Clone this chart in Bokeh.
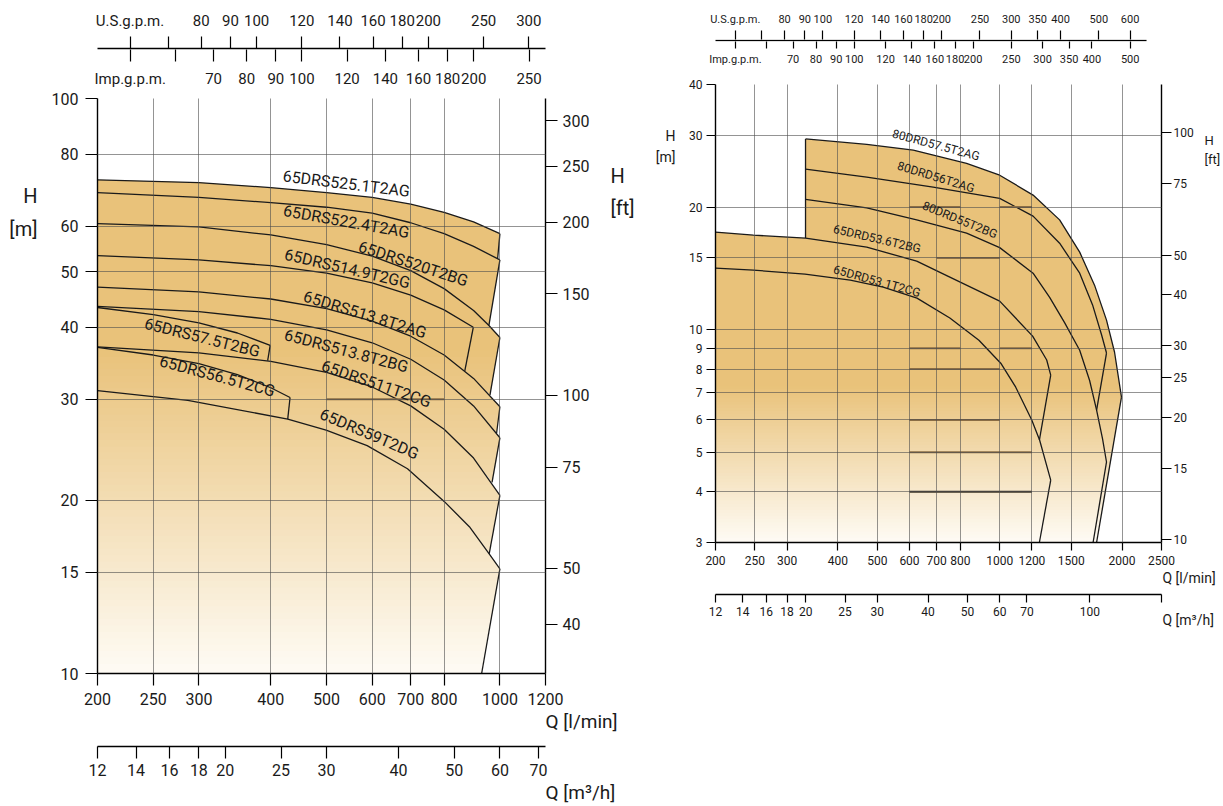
import numpy as np
from bokeh.plotting import figure
from bokeh.models import Range1d, LogScale, LogAxis, FixedTicker, Label, Title
from bokeh.layouts import row, column
from bokeh.embed import file_html
from bokeh.resources import INLINE

FONT = "Roboto"
TAN = (233, 194, 122)
LIGHT = (254, 251, 244)
INK = "#1a1a1a"
US_GAL = 3.78541
IMP_GAL = 4.54609
M_TO_FT = 3.28084
LMIN_TO_M3H = 0.06

# ===================== LEFT CHART (Q l/min, H m) =====================
L_Q_TICKS = [200, 250, 300, 400, 500, 600, 700, 800, 1000, 1200]
L_Q_GRID = [250, 300, 400, 500, 600, 700, 800, 1000]
L_H_TICKS = [10, 15, 20, 30, 40, 50, 60, 80, 100]
L_H_GRID = [15, 20, 30, 40, 50, 60, 80]
L_FT_TICKS = [40, 50, 75, 100, 150, 200, 250, 300]
L_M3H_TICKS = [12, 14, 16, 18, 20, 25, 30, 40, 50, 60, 70]
L_M3H_LABELS = ["12", "14", "16", "18", "20", "25", "30", "40", "50", "60", "70"]
L_US_TICKS = [60, 70, 80, 90, 100, 120, 140, 160, 180, 200, 250, 300]
L_US_LABELS = ["U.S.g.p.m.", "", "80", "90", "100", "120", "140", "160", "180", "200", "250", "300"]
L_IMP_TICKS = [50, 60, 70, 80, 90, 100, 120, 140, 160, 180, 200, 250]
L_IMP_LABELS = ["Imp.g.p.m.", "", "70", "80", "90", "100", "120", "140", "160", "180", "200", "250"]

Q9 = [200, 300, 400, 500, 600, 700, 800, 900, 1000]
H_525_1 = [72.2, 71.4, 70.0, 68.6, 67.3, 65.5, 63.4, 61.0, 58.2]
H_522_4 = [68.6, 67.3, 65.9, 64.7, 63.2, 60.8, 58.2, 55.3, 52.4]
Q_520 = [200, 300, 400, 500, 600, 700, 800, 900, 957, 1000]
H_520 = [60.6, 59.8, 57.9, 55.7, 53.2, 50.2, 46.7, 42.8, 40.3, 38.4]
Q_514_9 = [200, 300, 400, 500, 600, 700, 800, 899]
H_514_9 = [53.3, 52.4, 51.2, 49.7, 47.8, 45.5, 42.9, 40.0]
H_513_8A = [47.0, 46.1, 44.8, 43.1, 41.0, 38.6, 35.8, 32.6, 29.1]
H_513_8B = [43.5, 42.6, 41.3, 39.6, 37.6, 35.2, 32.4, 29.2, 25.7]
Q_57_5 = [200, 250, 300, 350, 399]
H_57_5 = [43.3, 42.1, 40.7, 39.1, 37.2]
H_511 = [37.0, 36.1, 34.9, 33.4, 31.5, 29.2, 26.6, 23.7, 20.4]
Q_56_5 = [200, 250, 300, 350, 400, 432]
H_56_5 = [36.9, 35.8, 34.6, 33.1, 31.4, 30.2]
Q_59 = [200, 287, 428, 499, 588, 691, 801, 885, 958, 1000]
H_59 = [31.05, 29.85, 27.7, 26.5, 24.9, 22.7, 19.9, 18.0, 16.15, 15.2]

L_NAMES = ["65DRS525.1T2AG", "65DRS522.4T2AG", "65DRS520T2BG", "65DRS514.9T2GG",
           "65DRS513.8T2AG", "65DRS513.8T2BG", "65DRS57.5T2BG", "65DRS511T2CG",
           "65DRS56.5T2CG", "65DRS59T2DG"]
L_CURVE_Q = [Q9, Q9, Q_520, Q_514_9, Q9, Q9, Q_57_5, Q9, Q_56_5, Q_59]
L_CURVE_H = [H_525_1, H_522_4, H_520, H_514_9, H_513_8A, H_513_8B, H_57_5, H_511, H_56_5, H_59]
# foot of each curve's end-of-range line (Q, H)
L_END_Q = [991, 957, 961, 869, 987, 969, 395, 958, 428, 929.5]
L_END_H = [52.7, 40.3, 30.5, 33.6, 26.2, 21.5, 35.0, 16.15, 27.7, 10.0]
L_BELOW = [1, 2, 4, 4, 5, 7, 7, 9, 9, None]   # curve bounding each region from below
L_DARK = [(30, 500, 800)]

# label placement (Q, H, angle deg)
L_LABEL_AT = [(541, 71.1, -7), (541, 61.1, -10), (707, 51.6, -18), (543, 50.6, -13),
              (583, 42.1, -17), (541, 36.4, -15), (304, 38.4, -14), (610, 31.9, -19),
              (323, 32.9, -15), (593, 26.1, -23)]

# ===================== RIGHT CHART =====================
R_Q_TICKS = [200, 250, 300, 400, 500, 600, 700, 800, 1000, 1200, 1500, 2000, 2500]
R_Q_GRID = [250, 300, 400, 500, 600, 700, 800, 1000, 1200, 1500, 2000]
R_H_TICKS = [3, 4, 5, 6, 7, 8, 9, 10, 15, 20, 30, 40]
R_H_GRID = [4, 5, 6, 7, 8, 9, 10, 15, 20, 30]
R_FT_TICKS = [10, 15, 20, 25, 30, 40, 50, 75, 100]
R_M3H_TICKS = [12, 14, 16, 18, 20, 25, 30, 40, 50, 60, 70, 100, 150]
R_M3H_LABELS = ["12", "14", "16", "18", "20", "25", "30", "40", "50", "60", "70", "100", ""]
R_US_TICKS = [60, 70, 80, 90, 100, 120, 140, 160, 180, 200, 250, 300, 350, 400, 500, 600]
R_US_LABELS = ["U.S.g.p.m.", "", "80", "90", "100", "120", "140", "160", "180", "200", "250",
               "300", "350", "400", "500", "600"]
R_IMP_TICKS = [50, 60, 70, 80, 90, 100, 120, 140, 160, 180, 200, 250, 300, 350, 400, 500]
R_IMP_LABELS = ["Imp.g.p.m.", "", "70", "80", "90", "100", "120", "140", "160", "180", "200",
                "250", "300", "350", "400", "500"]

Q_80_57_5 = [333, 471, 613, 829, 1000, 1208, 1404, 1573, 1711, 1831, 1916, 1993]
H_80_57_5 = [29.4, 28.5, 27.6, 25.6, 23.95, 21.4, 18.6, 15.5, 12.86, 10.55, 8.81, 6.83]
Q_80_56 = [333, 471, 686, 1000, 1208, 1404, 1573, 1692, 1781, 1831]
H_80_56 = [24.8, 23.7, 22.4, 21.0, 19.0, 16.3, 13.76, 11.5, 9.70, 8.76]
Q_80_55 = [333, 471, 625, 829, 1000, 1208, 1327, 1444, 1573, 1664, 1731, 1790, 1831]
H_80_55 = [20.9, 19.9, 18.6, 17.25, 15.9, 13.76, 12.0, 10.4, 8.9, 7.5, 6.34, 5.4, 4.73]
Q_65_3_6 = [200, 248, 333, 471, 625, 754, 1000, 1205, 1305, 1335]
H_65_3_6 = [17.36, 17.06, 16.78, 15.94, 14.73, 13.46, 11.75, 9.64, 8.42, 7.73]
Q_65_3_1 = [200, 248, 332, 429, 517, 626, 754, 889, 1006, 1095, 1199, 1254, 1335]
H_65_3_1 = [14.16, 14.0, 13.68, 13.23, 12.72, 11.95, 10.68, 9.42, 8.27, 7.22, 6.0, 5.35, 4.27]

R_NAMES = ["80DRD57.5T2AG", "80DRD56T2AG", "80DRD55T2BG", "65DRD53.6T2BG", "65DRD53.1T2CG"]
R_CURVE_Q = [Q_80_57_5, Q_80_56, Q_80_55, Q_65_3_6, Q_65_3_1]
R_CURVE_H = [H_80_57_5, H_80_56, H_80_55, H_65_3_6, H_65_3_1]
R_END_Q = [1731, 1731, 1697, 1252, 1252]
R_END_H = [3.0, 6.34, 3.0, 5.35, 3.0]
R_DARK = [(4, 600, 1200), (5, 600, 1200), (6, 600, 1000), (8, 600, 1000), (9, 600, 800),
          (9, 1000, 1200), (15, 700, 1000), (20, 600, 800), (20, 1000, 1200)]
R_LABEL_AT = [(697, 28.4, -15), (697, 23.7, -17), (798, 18.6, -22), (499, 16.7, -13),
              (499, 13.15, -15.5)]

# where the side captions sit (H in m on each chart's own scale)
L_SIDE_AT = [67.8, 59.4]
L_SIDE_FT_AT = [73.2, 64.6]
R_SIDE_AT = [29.9, 26.5]
R_SIDE_FT_AT = [29.2, 26.1]


# ===================== helpers =====================
def style_axis(ax, ticks, labels, size, tick_out, standoff, line=True, tick=True):
    ax.ticker = FixedTicker(ticks=ticks)
    ax.major_label_overrides = {t: lab for t, lab in zip(ticks, labels)}
    ax.axis_line_color = "black" if line else None
    ax.axis_line_width = 1.4
    ax.major_tick_line_color = "black" if tick else None
    ax.major_tick_line_width = 1.2
    ax.major_tick_out = tick_out
    ax.major_tick_in = 0
    ax.minor_tick_line_color = None
    ax.minor_tick_out = 0
    ax.minor_tick_in = 0
    ax.major_label_text_font = FONT
    ax.major_label_text_font_size = f"{size}px"
    ax.major_label_text_color = INK
    ax.major_label_standoff = standoff


def base(width, height, l, r, t, b, **kw):
    p = figure(width=width, height=height, min_border_left=l, min_border_right=r,
               min_border_top=t, min_border_bottom=b, output_backend="svg",
               toolbar_location=None, background_fill_color="white",
               border_fill_color="white", **kw)
    p.outline_line_color = None
    return p


def side_title(p, text, offset, size, standoff):
    p.add_layout(Title(text=text, align="left", offset=offset, standoff=standoff,
                       text_font=FONT, text_font_size=f"{size}px",
                       text_font_style="normal", text_color=INK), "below")


def gpm_fig(width, height, l, r, t, b, frame_px, scale_px, q0, q1, us_t, us_l, imp_t,
            imp_l, size, tk_us, tk_imp, so_us, so_imp, own_line):
    # the g.p.m. scale is drawn a little shorter than the plot frame in the original
    g0, g1 = q0 / US_GAL, q1 / US_GAL
    k = np.log10(g1 / g0) / (scale_px[1] - scale_px[0])
    us_lo = g0 * 10 ** (-(scale_px[0] - frame_px[0]) * k)
    us_hi = g0 * 10 ** ((frame_px[1] - scale_px[0]) * k)
    p = base(width, height, l, r, t, b, x_axis_type="log", x_axis_location="above",
             y_axis_type=None, x_range=Range1d(us_lo, us_hi), y_range=Range1d(0, 1))
    p.grid.visible = False
    p.extra_x_ranges = {"imp": Range1d(us_lo * US_GAL / IMP_GAL, us_hi * US_GAL / IMP_GAL)}
    p.extra_x_scales = {"imp": LogScale()}
    imp = LogAxis(x_range_name="imp")
    p.add_layout(imp, "below")
    style_axis(p.above[0], us_t, us_l, size, tk_us, so_us, line=not own_line)
    style_axis(imp, imp_t, imp_l, size, tk_imp, so_imp, line=False)
    if own_line:
        p.segment(x0=[g0], y0=[0.5], x1=[g1], y1=[0.5], line_color="black", line_width=1.6)
    return p


def m3h_fig(width, height, l, r, t, b, q0, q1, ticks, labels, size, tk, so, lab_size,
            lab_so, fw):
    p = base(width, height, l, r, t, b, x_axis_type="log", y_axis_type=None,
             x_range=Range1d(q0 * LMIN_TO_M3H, q1 * LMIN_TO_M3H), y_range=Range1d(0, 1))
    p.grid.visible = False
    style_axis(p.below[0], ticks, labels, size, tk, so)
    side_title(p, "Q [m\u00b3/h]", fw, lab_size, lab_so)
    return p


def to_hex(c):
    return "#%02x%02x%02x" % tuple(int(round(v)) for v in c)


def clip_poly(pts, lo, hi):
    def clip(pts, keep, y0):
        out = []
        for i in range(len(pts)):
            cur, prev = pts[i], pts[i - 1]
            kc, kp = keep(cur), keep(prev)
            if kc != kp:
                t = (y0 - prev[1]) / (cur[1] - prev[1])
                out.append((prev[0] + t * (cur[0] - prev[0]), y0))
            if kc:
                out.append(cur)
        return out
    pts = clip(pts, lambda p: p[1] >= lo, lo)
    if len(pts) >= 3:
        pts = clip(pts, lambda p: p[1] <= hi, hi)
    return pts


def graded_fill(p, polys_q, polys_h, h_bottom, h_fade, h_top, n=50):
    lb, lf, lt = np.log10([h_bottom, h_fade, h_top])
    dh = (lf - lb) / n
    bands = [(lf, lt + 0.05, 1.0)]
    for i in range(n - 1, -1, -1):
        lo = lb + i * dh
        bands.append((lo, lo + 1.5 * dh, (i + 0.5) / n))
    xs, ys, cs = [], [], []
    for lo, hi, t in bands:
        col = to_hex([LIGHT[k] + t * (TAN[k] - LIGHT[k]) for k in range(3)])
        for pq, ph in zip(polys_q, polys_h):
            c = clip_poly(list(zip(np.log10(pq), np.log10(ph))), lo, hi)
            if len(c) >= 3:
                xs.append([10 ** a for a, b in c])
                ys.append([10 ** b for a, b in c])
                cs.append(col)
    p.patches(xs, ys, fill_color=cs, line_color=None)


def main_fig(width, height, l, r, t, b, q0, q1, h0, h1, qt, qg, ht, hg, ftt,
             size, tk_l, tk_b, tk_r, so_l, so_b, so_r):
    p = base(width, height, l, r, t, b, x_axis_type="log", y_axis_type="log",
             x_range=Range1d(q0, q1), y_range=Range1d(h0, h1))
    p.extra_y_ranges = {"ft": Range1d(h0 * M_TO_FT, h1 * M_TO_FT)}
    p.extra_y_scales = {"ft": LogScale()}
    ax_r = LogAxis(y_range_name="ft")
    p.add_layout(ax_r, "right")
    style_axis(p.below[0], qt, [str(v) for v in qt], size, tk_b, so_b)
    style_axis(p.left[0], ht, [str(v) for v in ht], size, tk_l, so_l)
    style_axis(ax_r, ftt, [str(v) for v in ftt], size, tk_r, so_r)
    p.xgrid.ticker = FixedTicker(ticks=qg)
    p.ygrid.ticker = FixedTicker(ticks=hg)
    p.grid.grid_line_color = "#4d4d4d"
    p.grid.grid_line_alpha = 0.6
    p.grid.grid_line_width = 1
    p.grid.level = "guide"
    return p


def side_caption(p, side, at, texts, size, standoff):
    ax = LogAxis()
    p.add_layout(ax, side)
    style_axis(ax, at, texts, size, 0, standoff, line=False, tick=False)


def curve_labels(p, names, places, size):
    for name, (q, h, ang) in zip(names, places):
        p.add_layout(Label(x=q, y=h, text=name, angle=np.deg2rad(ang), text_align="center",
                           text_baseline="middle", text_font=FONT,
                           text_font_size=f"{size}px", text_color=INK))


# ===================== LEFT PANEL (borders 97 / 105, frame 97..545) =====================
topL = gpm_fig(650, 89, 97, 105, 49, 39, (97, 545), (98, 542), 200, 1200,
               L_US_TICKS, L_US_LABELS, L_IMP_TICKS, L_IMP_LABELS, 15, 12, 12, 7, 8, False)

pL = main_fig(650, 648, 97, 105, 9, 64, 200, 1200, 10, 100, L_Q_TICKS, L_Q_GRID,
              L_H_TICKS, L_H_GRID, L_FT_TICKS, 16, 12, 12, 12, 7, 7, 5)

polys_q, polys_h = [], []
for i in range(len(L_CURVE_Q)):
    qx = list(L_CURVE_Q[i]) + [L_END_Q[i]]
    hy = list(L_CURVE_H[i]) + [L_END_H[i]]
    j = L_BELOW[i]
    if j is None:
        qx.append(L_CURVE_Q[i][0]); hy.append(10)
    else:
        pts = [(q, h) for q, h in zip(L_CURVE_Q[j], L_CURVE_H[j]) if q < L_END_Q[i]]
        for q, h in reversed(pts):
            qx.append(q); hy.append(h)
    polys_q.append(qx); polys_h.append(hy)
graded_fill(pL, polys_q, polys_h, 10, 36, 100)
pL.multi_line([list(q) for q in L_CURVE_Q], [list(h) for h in L_CURVE_H],
              line_color=INK, line_width=1.3)
pL.segment(x0=[q[-1] for q in L_CURVE_Q], y0=[h[-1] for h in L_CURVE_H],
           x1=L_END_Q, y1=L_END_H, line_color=INK, line_width=1.3)
pL.segment(x0=[d[1] for d in L_DARK], y0=[d[0] for d in L_DARK],
           x1=[d[2] for d in L_DARK], y1=[d[0] for d in L_DARK],
           line_color="#8a6d45", line_width=2)
curve_labels(pL, L_NAMES, L_LABEL_AT, 16)
side_caption(pL, "left", L_SIDE_AT, ["H", "[m]"], 20, 11)
side_caption(pL, "right", L_SIDE_FT_AT, ["H", "[ft]"], 20, 18)
side_title(pL, "Q [l/min]", 448, 19, 0)

botL = m3h_fig(650, 69, 97, 105, 8, 60, 200, 1200, L_M3H_TICKS, L_M3H_LABELS,
               16, 12, 5, 19, 0, 448)

# ===================== RIGHT PANEL (borders 65 / 61, frame 715..1162) =====================
topR = gpm_fig(573, 75, 65, 61, 39, 34, (715, 1162), (713, 1147), 200, 2500,
               R_US_TICKS, R_US_LABELS, R_IMP_TICKS, R_IMP_LABELS, 11, 9, 7, 5, 4, True)

pR = main_fig(573, 514, 65, 61, 9, 47, 200, 2500, 3, 40, R_Q_TICKS, R_Q_GRID,
              R_H_TICKS, R_H_GRID, R_FT_TICKS, 12, 9, 8, 10, 4, 5, 2)

env_q = [200] + [q for q in Q_65_3_6 if q <= Q_80_57_5[0]] + Q_80_57_5 + [R_END_Q[0]]
env_h = [3] + [h for q, h in zip(Q_65_3_6, H_65_3_6) if q <= Q_80_57_5[0]] + H_80_57_5 + [R_END_H[0]]
graded_fill(pR, [env_q], [env_h], 3, 7.2, 40)
pR.multi_line([list(q) for q in R_CURVE_Q], [list(h) for h in R_CURVE_H],
              line_color=INK, line_width=1.3)
pR.segment(x0=[q[-1] for q in R_CURVE_Q], y0=[h[-1] for h in R_CURVE_H],
           x1=R_END_Q, y1=R_END_H, line_color=INK, line_width=1.3)
pR.segment(x0=[Q_80_57_5[0]], y0=[H_80_57_5[0]], x1=[Q_80_57_5[0]],
           y1=[H_65_3_6[Q_65_3_6.index(333)]], line_color=INK, line_width=1.3)
pR.segment(x0=[d[1] for d in R_DARK], y0=[d[0] for d in R_DARK],
           x1=[d[2] for d in R_DARK], y1=[d[0] for d in R_DARK],
           line_color=["#3d3426" if d[0] == 4 else "#8a6d45" for d in R_DARK], line_width=2)
curve_labels(pR, R_NAMES, R_LABEL_AT, 12)
side_caption(pR, "left", R_SIDE_AT, ["H", "[m]"], 14, 11)
side_caption(pR, "right", R_SIDE_FT_AT, ["H", "[ft]"], 13, 8)
side_title(pR, "Q [l/min]", 447, 14, 0)

botR = m3h_fig(573, 51, 65, 61, 4, 46, 200, 2500, R_M3H_TICKS, R_M3H_LABELS,
               12, 8, 4, 14, -18, 447)

layout = row(column(topL, pL, botL), column(topR, pR, botR))
open("out.html", "w").write(file_html(layout, INLINE, title="Pump curves"))
